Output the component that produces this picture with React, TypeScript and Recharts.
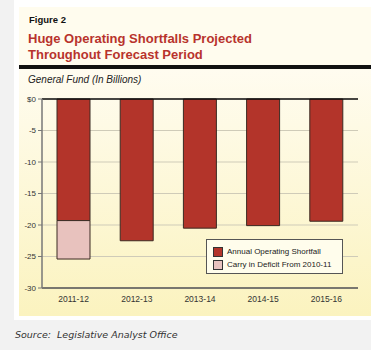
import { BarChart, Bar, XAxis, YAxis, CartesianGrid, ReferenceLine } from "recharts";

const years = ["2011-12", "2012-13", "2013-14", "2014-15", "2015-16"];
const annualShortfall = [-19.3, -22.5, -20.5, -20.1, -19.4];
const carryInDeficit = [-6.1, 0, 0, 0, 0];
const yTicks = [0, -5, -10, -15, -20, -25, -30];

const data = years.map((year, i) => ({
	year,
	annual: annualShortfall[i],
	carry: carryInDeficit[i],
}));

const seriesInfo = [
	{ label: "Annual Operating Shortfall", color: "#b3342a" },
	{ label: "Carry in Deficit From 2010-11", color: "#e8c2be" },
];

function LegendBox() {
	return (
		<div
			style={{
				position: "absolute",
				left: 206,
				top: 239,
				width: 137,
				height: 35,
				border: "1px solid #555",
				background: "#fffdec",
				boxSizing: "border-box",
				padding: "5px 0 0 6px",
				fontFamily: "Arial, 'Liberation Sans', sans-serif",
				fontSize: 8,
				color: "#222",
			}}
		>
			{seriesInfo.map((s) => (
				<div key={s.label} style={{ display: "flex", alignItems: "center", height: 13 }}>
					<span
						style={{
							display: "inline-block",
							width: 8,
							height: 8,
							background: s.color,
							border: "1px solid #333",
							marginRight: 4,
						}}
					/>
					{s.label}
				</div>
			))}
		</div>
	);
}

export default function App() {
	const font = "Arial, 'Liberation Sans', sans-serif";
	return (
		<div
			style={{
				position: "absolute",
				left: 0,
				top: 0,
				width: 371,
				height: 350,
				background: "#f2f2f2",
				overflow: "hidden",
			}}
		>
			<div style={{ position: "absolute", left: 14, top: 0, width: 357, height: 320, background: "#ffffff" }} />
			<div
				style={{
					position: "absolute",
					left: 19,
					top: 7,
					width: 352,
					height: 309,
					background: "#fffcee",
				}}
			/>
			<div
				style={{
					position: "absolute",
					left: 19,
					top: 69,
					width: 352,
					height: 247,
					background: "linear-gradient(#fffcf0, #fbf3bf)",
				}}
			/>
			<div style={{ position: "absolute", left: 19, top: 65, width: 352, height: 4, background: "#111" }} />
			<div
				style={{
					position: "absolute",
					left: 29,
					top: 14,
					fontFamily: font,
					fontWeight: "bold",
					fontSize: 9.5,
					color: "#111",
				}}
			>
				Figure 2
			</div>
			<div
				style={{
					position: "absolute",
					left: 28,
					top: 31,
					fontFamily: font,
					fontWeight: "bold",
					fontSize: 13,
					lineHeight: "16px",
					color: "#b8332c",
				}}
			>
				Huge Operating Shortfalls Projected
				<br />
				Throughout Forecast Period
			</div>
			<div
				style={{
					position: "absolute",
					left: 28,
					top: 74,
					fontFamily: font,
					fontStyle: "italic",
					fontSize: 10,
					color: "#222",
				}}
			>
				General Fund (In Billions)
			</div>
			<div style={{ position: "absolute", left: 0, top: 0 }}>
				<BarChart
					width={371}
					height={320}
					data={data}
					margin={{ top: 99, right: 13, left: 0, bottom: 12 }}
					barSize={33}
				>
					<CartesianGrid vertical={false} stroke="#cfcbb8" strokeWidth={1} />
					<XAxis
						dataKey="year"
						height={20}
						axisLine={{ stroke: "#555", strokeWidth: 1.5 }}
						tickLine={false}
						tick={{ fontSize: 8.5, fill: "#333", fontFamily: font }}
						tickMargin={2}
					/>
					<YAxis
						width={42}
						domain={[-30, 0]}
						ticks={yTicks}
						interval={0}
						axisLine={{ stroke: "#777", strokeWidth: 1.5 }}
						tickLine={{ stroke: "#777" }}
						tickSize={4}
						tick={{ fontSize: 8, fill: "#333", fontFamily: font }}
						tickFormatter={(v: number) => (v === 0 ? "$0" : String(v))}
					/>
					<YAxis
						yAxisId="right"
						orientation="right"
						width={0}
						domain={[-30, 0]}
						axisLine={{ stroke: "#555", strokeWidth: 1.5 }}
						tick={false}
						tickLine={false}
					/>
					<Bar
						dataKey="annual"
						stackId="a"
						fill={seriesInfo[0].color}
						stroke="#3a2a22"
						strokeWidth={1}
						isAnimationActive={false}
					/>
					<Bar
						dataKey="carry"
						stackId="a"
						fill={seriesInfo[1].color}
						stroke="#3a2a22"
						strokeWidth={1}
						isAnimationActive={false}
					/>
					<ReferenceLine y={0} stroke="#111" strokeWidth={1.5} />
				</BarChart>
			</div>
			<LegendBox />
			<div
				style={{
					position: "absolute",
					left: 15,
					top: 329,
					fontFamily: "Verdana, 'DejaVu Sans', sans-serif",
					fontStyle: "italic",
					fontSize: 9.5,
					color: "#333",
					whiteSpace: "pre",
				}}
			>
				{"Source:  Legislative Analyst Office"}
			</div>
		</div>
	);
}
